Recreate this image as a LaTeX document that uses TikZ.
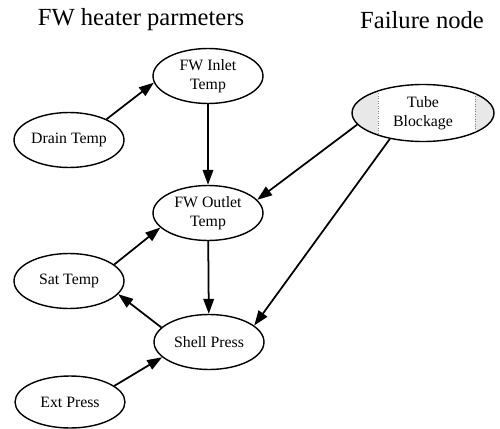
\documentclass[tikz,border=0pt]{standalone}
\usepackage{fontspec}
\setmainfont{Liberation Serif}
\usetikzlibrary{arrows.meta, shapes.geometric, backgrounds}

\begin{document}
\begin{tikzpicture}[
      x=0.02cm, y=-0.02cm,
      param/.style={draw, ellipse, line width=0.8pt, inner sep=0pt,
        minimum width=2.2cm, minimum height=1.1cm, align=center,
        font=\fontsize{9}{10.5}\selectfont},
      fail/.style={param, minimum width=2.84cm, minimum height=1.14cm},
      arr/.style={-{Triangle[length=8.5pt, width=6pt]}, line width=1pt},
      hdr/.style={font=\fontsize{14}{16}\selectfont}
    ]
    \useasboundingbox (0,0) rectangle (500,429);
    \node[hdr] (paramhdr) at (141,20) {FW heater parmeters};
    \node[hdr] (failhdr)  at (422,20) {Failure node};

    \node[param] (inlet)  at (208,76)  {FW Inlet\\Temp};
    \node[param] (drain)  at (69,140)  {Drain Temp};
    \node[param] (outlet) at (208,213) {FW Outlet\\Temp};
    \node[param] (sat)    at (69,281)  {Sat Temp};
    \node[param] (shell)  at (209,342) {Shell Press};
    \node[param, minimum height=1.04cm] (ext) at (70,402) {Ext Press};
    \node[fail]  (tube)   at (423,113) {Tube\\Blockage};

    % stippled sides of the failure node
    \begin{scope}[on background layer]
      \clip (tube.center) ellipse [x radius=1.42cm, y radius=0.57cm];
      \fill[gray!18] (350,80) rectangle (378,146);
      \fill[gray!18] (475,80) rectangle (497,146);
    \end{scope}
    \draw[densely dotted, gray] (378,91) -- (378,135);
    \draw[densely dotted, gray] (475,94) -- (475,132);

    \draw[arr] (drain.29)  -- (inlet.187);
    \draw[arr] (inlet)     -- (outlet);
    \draw[arr] (tube.190)  -- (outlet.15);
    \draw[arr] (tube.218)  -- (shell.20);
    \draw[arr] (sat.20)    -- (outlet.197);
    \draw[arr] (outlet)    -- (shell);
    \draw[arr] (shell.163) -- (sat.345);
    \draw[arr] (ext.20)    -- (shell.198);
  \end{tikzpicture}
\end{document}
